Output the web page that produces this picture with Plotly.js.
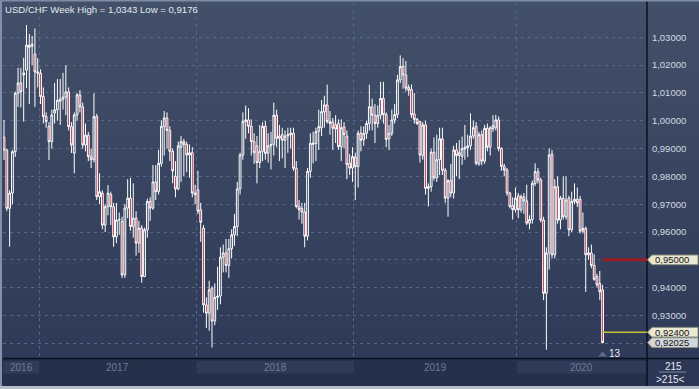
<!DOCTYPE html>
<html><head><meta charset="utf-8">
<script src="https://cdn.plot.ly/plotly-3.0.1.min.js"></script>
<style>
html,body{margin:0;padding:0;background:#26314c;}
#chart{width:699px;height:389px;
 background:linear-gradient(to bottom,#435069 0px,#2e3a57 358px,#25304b 358px,#25304b 389px);}
</style></head>
<body><div id="chart"></div>
<script>
// ---- data (weekly USD/CHF candles) ----
const open = [
 .9941,.9895,.9685,.9740,.9889,1.0099,1.0136,1.0165,1.0182,1.0264,1.0268,1.0240,1.0176,1.0171,1.0087,1.0015,.9979,.9925,1.0028,1.0039,1.0070,1.0078,1.0085,1.0104,.9979,.9884,1.0021,1.0093,1.0050,.9913,.9948,.9871,.9860,1.0015,.9727,.9740,.9625,.9691,.9735,.9691,.9583,
 .9643,.9638,.9446,.9686,.9722,.9620,.9650,.9560,.9614,.9440,.9608,.9710,
 .9686,.9780,.9746,.9847,.9980,1.0010,.9965,.9890,.9800,.9755,.9905,.9925,.9915,.9877,.9885,.9740,.9752,.9680,.9614,.9338,.9308,.9398,.9280,.9365,.9370,.9510,.9525,.9480,.9540,.9590,.9620,.9755,.9877,.9997,1.0003,.9980,.9925,.9910,.9850,.9890,.9980,.9883,.9910,.9915,1.0020,.9937,.9950,.9930,.9945,.9950,.9955,.9829,.9692,.9685,
 .9672,.9585,.9818,.9915,.9918,.9962,.9975,1.0032,1.0057,.9998,.9995,.9985,.9990,.9907,.9978,.9945,.9847,.9830,.9870,.9835,.9955,.9932,.9955,.9990,1.0050,1.0020,.9990,1.0020,1.0080,1.0022,.9935,.9955,1.0003,1.0022,1.0147,1.0195,1.0165,1.0120,1.0112,1.0025,1.0005,.9997,.9875,.9985,.9757,.9763,.9887,.9795,.9860,.9935,.9822,.9722,.9785,.9740,.9895,
 .9875,.9872,.9898,.9903,.9910,.9945,.9980,.9845,.9950,.9855,.9973,.9905,.9972,.9975,1.0003,.9900,.9836,.9823,.9740,.9695,.9680,.9730,.9680,.9727,.9712,.9632,.9645,.9775,.9817,.9787,.9643,.9380,.9525,.9880,.9518,.9763,.9643,.9722,.9655,.9722,.9608,.9710,.9718,.9718,.9603,.9613,.9518,.9525,.9480,.9440,.9415,.9392
];
const high = [
 1.0003,.9900,.9750,.9895,1.0105,1.0190,1.0190,1.0227,1.0344,1.0312,1.0305,1.0332,1.0225,1.0185,1.0120,1.0030,.9995,1.0040,1.0136,1.0150,1.0150,1.0172,1.0200,1.0120,.9995,1.0030,1.0100,1.0110,1.0065,.9990,.9960,.9900,1.0099,1.0025,.9811,.9750,.9700,.9769,.9745,.9705,.9705,
 .9670,.9655,.9700,.9790,.9795,.9775,.9675,.9640,.9625,.9616,.9720,.9725,
 .9841,.9840,.9895,1.0002,1.0035,1.0030,.9980,.9900,.9855,.9925,.9945,.9935,.9925,.9915,.9905,.9770,.9820,.9705,.9625,.9365,.9425,.9405,.9415,.9475,.9545,.9555,.9575,.9575,.9610,.9665,.9780,.9885,1.0030,1.0055,1.0045,1.0005,.9955,.9945,.9985,.9995,1.0000,.9955,.9960,1.0065,1.0040,.9985,.9975,.9965,.9975,.9975,.9975,.9855,.9715,.9705,
 .9705,.9830,.9955,.9961,.9975,1.0040,1.0075,1.0090,1.0130,1.0035,1.0010,1.0020,1.0005,1.0005,.9995,.9965,.9880,.9905,.9885,.9965,.9980,.9980,1.0000,1.0130,1.0080,1.0060,1.0055,1.0140,1.0140,1.0030,.9985,1.0040,1.0060,1.0165,1.0235,1.0225,1.0215,1.0130,1.0130,1.0100,1.0010,1.0000,.9995,1.0000,.9775,.9900,.9940,.9950,.9975,.9975,.9830,.9790,.9845,.9910,.9920,
 .9930,.9943,.9985,.9950,1.0027,1.0000,.9995,.9960,.9965,.9985,.9990,.9980,1.0020,1.0021,1.0015,.9905,.9845,.9830,.9745,.9725,.9760,.9740,.9735,.9740,.9770,.9660,.9785,.9847,.9830,.9795,.9655,.9545,.9901,.9895,.9790,.9800,.9730,.9800,.9800,.9730,.9745,.9775,.9760,.9730,.9670,.9620,.9545,.9555,.9520,.9450,.9460,.9410
];
const low = [
 .9859,.9675,.9547,.9700,.9870,1.0050,1.0048,.9997,1.0117,1.0060,1.0200,1.0050,1.0120,1.0060,.9990,.9975,.9859,.9900,.9990,1.0000,.9985,1.0040,1.0020,.9965,.9884,.9811,1.0000,1.0030,.9900,.9890,.9855,.9830,.9850,.9715,.9700,.9610,.9600,.9660,.9625,.9547,.9560,
 .9590,.9435,.9435,.9650,.9605,.9580,.9515,.9525,.9418,.9438,.9580,.9640,
 .9680,.9715,.9735,.9835,.9875,.9900,.9855,.9775,.9725,.9750,.9780,.9800,.9815,.9795,.9725,.9700,.9665,.9565,.9310,.9255,.9245,.9185,.9265,.9320,.9340,.9455,.9455,.9435,.9505,.9550,.9585,.9735,.9860,.9935,.9955,.9875,.9845,.9775,.9830,.9855,.9860,.9850,.9825,.9875,.9905,.9855,.9865,.9830,.9885,.9900,.9820,.9685,.9645,.9630,
 .9545,.9570,.9795,.9847,.9855,.9895,.9945,.9975,.9990,.9950,.9895,.9920,.9895,.9855,.9900,.9790,.9805,.9780,.9715,.9760,.9890,.9910,.9935,.9965,.9965,.9920,.9975,1.0005,.9990,.9905,.9895,.9945,.9990,1.0010,1.0135,1.0115,1.0105,1.0090,1.0010,.9990,.9985,.9850,.9860,.9735,.9692,.9745,.9785,.9780,.9805,.9805,.9705,.9655,.9725,.9720,.9800,
 .9790,.9842,.9860,.9870,.9895,.9935,.9840,.9838,.9840,.9845,.9890,.9875,.9960,.9965,.9890,.9820,.9800,.9730,.9685,.9645,.9670,.9650,.9670,.9665,.9625,.9610,.9630,.9765,.9775,.9635,.9355,.9177,.9465,.9505,.9505,.9630,.9610,.9645,.9645,.9585,.9600,.9700,.9690,.9595,.9595,.9385,.9500,.9470,.9425,.9400,.9355,.9200
];
const close = [
 .9895,.9685,.9740,.9889,1.0099,1.0136,1.0104,1.0172,1.0272,1.0272,1.0275,1.0176,1.0171,1.0087,1.0015,.9997,.9925,1.0021,1.0039,1.0074,1.0078,1.0085,1.0104,.9979,.9913,1.0021,1.0093,1.0050,.9913,.9948,.9871,.9860,1.0015,.9727,.9745,.9625,.9691,.9740,.9691,.9583,.9643,
 .9645,.9446,.9686,.9722,.9620,.9650,.9560,.9614,.9440,.9608,.9710,.9686,
 .9780,.9745,.9847,.9980,1.0010,.9965,.9890,.9820,.9755,.9910,.9925,.9915,.9877,.9885,.9740,.9735,.9675,.9635,.9338,.9308,.9392,.9280,.9365,.9370,.9510,.9525,.9480,.9540,.9590,.9620,.9755,.9877,.9997,1.0003,.9980,.9925,.9885,.9850,.9890,.9980,.9883,.9910,.9915,1.0020,.9937,.9945,.9930,.9945,.9950,.9955,.9829,.9692,.9680,.9672,
 .9585,.9818,.9919,.9920,.9961,.9979,1.0033,1.0057,.9997,.9990,.9973,.9970,.9907,.9975,.9950,.9842,.9830,.9871,.9835,.9955,.9930,.9955,.9990,1.0050,1.0020,.9990,1.0020,1.0080,1.0022,.9933,.9955,1.0003,1.0022,1.0147,1.0195,1.0165,1.0117,1.0110,1.0021,1.0005,.9990,.9877,.9985,.9757,.9763,.9887,.9795,.9860,.9935,.9822,.9722,.9785,.9740,.9895,.9875,
 .9885,.9900,.9905,.9910,.9945,.9975,.9847,.9950,.9855,.9973,.9905,.9975,.9982,1.0003,.9900,.9836,.9823,.9740,.9692,.9680,.9722,.9680,.9727,.9712,.9632,.9645,.9775,.9817,.9787,.9643,.9380,.9525,.9877,.9518,.9763,.9643,.9722,.9655,.9715,.9608,.9710,.9718,.9705,.9603,.9613,.9518,.9525,.9480,.9430,.9410,.9385,.92025
];
const yearLabels = ['2016','2017','2018','2019','2020'];
const yearFirstBar = [0, 13, 69, 125, 183];
const priceTicks = [0.92,0.93,0.94,0.95,0.96,0.97,0.98,0.99,1.00,1.01,1.02,1.03];
const titleText = 'USD/CHF Week High = 1,0343 Low = 0,9176';
const redLevel = 0.95, yellowLevel = 0.924;
const barCountText = '215', barCursorText = '>215<', countdownText = '13';

// ---- geometry helpers ----
const W = 699, H = 389, ML = 3, MR = 52, MT = 3, MB = 32;
const PW = W - ML - MR, PH = H - MT - MB;
const xp = px => (px - ML) / PW;
const yp = py => (H - MB - py) / PH;
const fmt = v => v.toFixed(5).replace('.', ',');

const barIndex = open.map((_, i) => i);
const nBars = barIndex.length, lastBar = nBars - 1;
const xMin = -0.36, xMax = 228.8;
const yMin = 0.91508, yMax = 1.04233;
const lastPrice = close[lastBar];
const pxPerUnit = PH / (yMax - yMin);
const tagLevels = [redLevel, yellowLevel, lastPrice];

const font = 'Liberation Sans, Arial, sans-serif';
const shapes = [], ann = [];

// bottom band shaded year boxes
const bounds = yearFirstBar.map(b => b - 0.5).concat([xMax]);
yearLabels.forEach((lab, i) => {
  const a = Math.max(bounds[i], xMin), b = bounds[i + 1];
  if (i % 2 === 0) {
    shapes.push({type:'rect', xref:'x', yref:'paper', x0:a, x1:b, y0:yp(373.5), y1:yp(361), fillcolor:'#2f3b59', line:{width:0}, layer:'below'});
  }
  ann.push({xref:'x', yref:'paper', x:(a + b) / 2, y:yp(367.5), text:lab, showarrow:false,
    font:{family:font, size:10, color:'#6c7b9a'}, xanchor:'center', yanchor:'middle'});
});
// right-bottom box
shapes.push({type:'rect', xref:'paper', yref:'paper', x0:xp(648), x1:xp(699), y0:yp(389), y1:yp(359), fillcolor:'#2b3755', line:{width:0}});
shapes.push({type:'line', xref:'paper', yref:'paper', x0:xp(659), x1:xp(686), y0:yp(372), y1:yp(372), line:{color:'#7f8ba3', width:1}});
ann.push({xref:'paper', yref:'paper', x:xp(673), y:yp(366.5), text:barCountText, showarrow:false, font:{family:font, size:10, color:'#e6eaf2'}, xanchor:'center', yanchor:'middle'});
ann.push({xref:'paper', yref:'paper', x:xp(670.5), y:yp(379), text:barCursorText, showarrow:false, font:{family:font, size:10, color:'#e6eaf2'}, xanchor:'center', yanchor:'middle'});
// separator black lines
shapes.push({type:'line', xref:'paper', yref:'paper', x0:xp(3), x1:xp(699), y0:yp(358.5), y1:yp(358.5), line:{color:'#0b1020', width:1.5}});
shapes.push({type:'line', xref:'paper', yref:'paper', x0:xp(647), x1:xp(647), y0:yp(0), y1:yp(389), line:{color:'#0b1020', width:1.5}});
// frame edges
shapes.push({type:'rect', xref:'paper', yref:'paper', x0:xp(0), x1:xp(2), y0:yp(389), y1:yp(0), fillcolor:'#8391ad', line:{width:0}});
shapes.push({type:'rect', xref:'paper', yref:'paper', x0:xp(0), x1:xp(699), y0:yp(1.5), y1:yp(0), fillcolor:'#7e8ba6', line:{width:0}});
shapes.push({type:'rect', xref:'paper', yref:'paper', x0:xp(0), x1:xp(699), y0:yp(389), y1:yp(386), fillcolor:'#b5bdcb', line:{width:0}});

// level lines from last bar to the axis
shapes.push({type:'line', xref:'x', yref:'y', x0:lastBar, x1:xMax, y0:redLevel, y1:redLevel, line:{color:'#9b1c22', width:3}});
shapes.push({type:'line', xref:'x', yref:'y', x0:lastBar, x1:xMax, y0:yellowLevel, y1:yellowLevel, line:{color:'#c2c238', width:1.5}});

// price tags
function tag(v, fill) {
  const hh = 4.8 / pxPerUnit;
  const a = xp(647.5), b = xp(652), c = xp(698);
  shapes.push({type:'path', xref:'paper', yref:'y',
    path:`M${a},${v} L${b},${v + hh} L${c},${v + hh} L${c},${v - hh} L${b},${v - hh} Z`,
    fillcolor:fill, line:{color:'#8e9282', width:1}});
  ann.push({xref:'paper', yref:'y', x:xp(652.5), y:v, text:fmt(v), showarrow:false,
    font:{family:font, size:9.5, color:'#141414'}, xanchor:'left', yanchor:'middle'});
}
tag(redLevel, '#e9e9d2');
tag(yellowLevel, '#e9e9d2');
tag(lastPrice, '#d3d7de');

// countdown marker under last bar
shapes.push({type:'path', xref:'x', yref:'paper',
  path:`M${lastBar - 1.6},${yp(356.5)} L${lastBar},${yp(351.5)} L${lastBar + 1.6},${yp(356.5)} Z`,
  fillcolor:'#5d6a86', line:{width:0}});
ann.push({xref:'x', yref:'paper', x:lastBar + 1.6, y:yp(353.5), text:countdownText, showarrow:false,
  font:{family:font, size:10, color:'#e6eaf2'}, xanchor:'left', yanchor:'middle'});

// title
ann.push({xref:'paper', yref:'paper', x:xp(3), y:yp(10), text:titleText, showarrow:false,
  font:{family:font, size:9.6, color:'#e4e8f0'}, xanchor:'left', yanchor:'middle'});

const trace = {
  type:'candlestick', x:barIndex, open, high, low, close,
  increasing:{line:{color:'#ffffff', width:1}, fillcolor:'rgba(0,0,0,0)'},
  decreasing:{line:{color:'#ffffff', width:1}, fillcolor:'#b3243d'},
  whiskerwidth:0, hoverinfo:'skip'
};

// tick labels hidden where a price tag sits on top of them
const hidden = v => tagLevels.some(t => Math.abs(t - v) * pxPerUnit < 9);

const layout = {
  width:W, height:H, margin:{l:ML, r:MR, t:MT, b:MB, pad:0},
  paper_bgcolor:'rgba(0,0,0,0)', plot_bgcolor:'rgba(0,0,0,0)',
  showlegend:false, boxgap:0.1,
  xaxis:{range:[xMin, xMax], rangeslider:{visible:false}, showticklabels:false,
    tickvals:yearFirstBar.slice(1).map(b => b - 0.5), showgrid:true, gridcolor:'#5a6887', griddash:'3px,4px',
    zeroline:false, showline:false, ticks:'', fixedrange:true},
  yaxis:{range:[yMin, yMax], side:'right', tickvals:priceTicks,
    ticktext:priceTicks.map(v => hidden(v) ? '' : fmt(v)),
    showgrid:true, gridcolor:'#5a6887', griddash:'3px,4px', zeroline:false, showline:false,
    ticks:'outside', ticklen:2, tickcolor:'rgba(0,0,0,0)',
    tickfont:{family:font, size:9.5, color:'#d3d9e4'}, fixedrange:true},
  shapes, annotations:ann
};
Plotly.newPlot('chart', [trace], layout, {staticPlot:true, displayModeBar:false});
</script>
</body></html>
